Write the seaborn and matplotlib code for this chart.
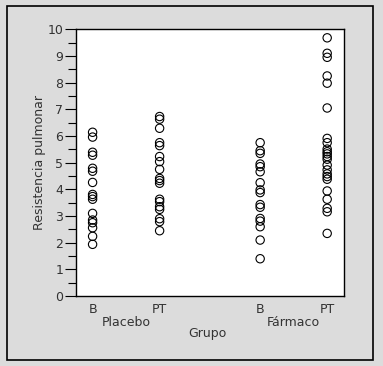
import numpy as np
import pandas as pd
import matplotlib.pyplot as plt
from matplotlib.patches import Rectangle
import seaborn as sns

# Values
placebo_b = [6.14, 5.96, 5.39, 5.28, 4.79, 4.68, 4.26, 3.81, 3.73, 3.63,
             3.10, 2.85, 2.75, 2.56, 2.24, 1.94]
placebo_pt = [6.73, 6.63, 6.29, 5.75, 5.64, 5.23, 5.04, 4.75, 4.41, 4.33,
              4.23, 3.63, 3.54, 3.35, 3.25, 2.90, 2.79, 2.45]
farmaco_b = [5.75, 5.45, 5.35, 4.95, 4.85, 4.66, 4.25, 3.98, 3.88, 3.43,
             3.33, 2.91, 2.81, 2.60, 2.10, 1.40]
farmaco_pt = [9.68, 9.10, 8.95, 8.25, 7.98, 7.05, 5.91, 5.75, 5.51, 5.41,
              5.33, 5.23, 5.13, 4.91, 4.73, 4.58, 4.48, 4.38, 3.94, 3.63,
              3.29, 3.16, 2.35]

tick_labels = ["B", "PT", "B", "PT"]
group_labels = ["Placebo", "Fármaco"]
positions = [0, 1, 2.5, 3.5]

series = [placebo_b, placebo_pt, farmaco_b, farmaco_pt]
rows = []
for pos, vals in zip(positions, series):
    for v in vals:
        rows.append({"pos": pos, "resistencia": v})
df = pd.DataFrame(rows)

sns.set_style("white")
plt.rcParams["font.family"] = ["DejaVu Sans"]

bg = "#dcdcdc"
txt = "#333333"
fig = plt.figure(figsize=(3.83, 3.66), dpi=100, facecolor=bg)
ax = fig.add_axes([0.198, 0.191, 0.700, 0.729])
ax.set_facecolor("white")

sns.scatterplot(data=df, x="pos", y="resistencia", ax=ax, marker="o",
                s=36, facecolor="none", edgecolor="black", linewidth=0.8)

ax.set_xlim(-0.25, 3.75)
ax.set_ylim(0, 10)
ax.set_yticks(range(0, 11))
ax.set_yticks(np.arange(0, 10.5, 0.5), minor=True)
ax.tick_params(axis="y", which="major", length=8, width=0.8, color="black",
               labelsize=9, labelcolor=txt, pad=1, left=True)
ax.tick_params(axis="y", which="minor", length=6, width=0.8, color="black", left=True)
ax.set_xticks(positions)
ax.set_xticklabels(tick_labels)
ax.tick_params(axis="x", length=0, labelsize=9, labelcolor=txt, pad=5)
for s in ax.spines.values():
    s.set_color("black")
    s.set_linewidth(1.0)

ax.set_xlabel("")
ax.set_ylabel("Resistencia pulmonar", fontsize=9, color=txt, labelpad=1)

# group labels under tick labels
for i, lab in enumerate(group_labels):
    xc = (positions[2 * i] + positions[2 * i + 1]) / 2
    ax.text(xc, -0.076, lab, transform=ax.get_xaxis_transform(),
            ha="center", va="top", fontsize=9, color=txt)
fig.text(0.542, 0.090, "Grupo", ha="center", va="center", fontsize=9, color=txt)

# outer frame
fig.patches.append(Rectangle((7 / 383, 6 / 366), 366 / 383, 354 / 366,
                             transform=fig.transFigure, fill=False,
                             edgecolor="black", linewidth=1.2))

fig.savefig("out.png", dpi=100, facecolor=bg)
